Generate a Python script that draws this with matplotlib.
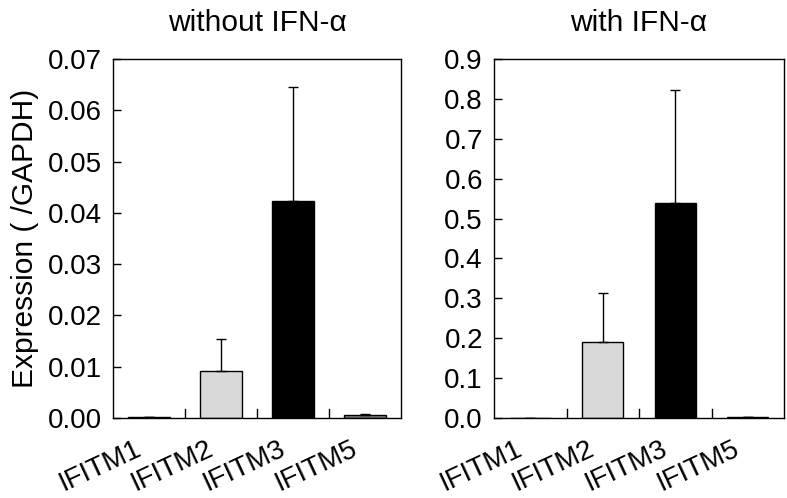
import numpy as np
import matplotlib.pyplot as plt
import matplotlib.transforms as mtransforms

plt.rcParams['font.family'] = ['Liberation Sans', 'DejaVu Sans']

genes = ['IFITM1', 'IFITM2', 'IFITM3', 'IFITM5']
colors = ['#ffffff', '#d9d9d9', '#000000', '#808080']

without_mean = [0.0001, 0.0092, 0.0423, 0.0005]
without_err = [0.0, 0.0062, 0.0222, 0.0002]
with_mean = [0.001, 0.190, 0.540, 0.002]
with_err = [0.0, 0.123, 0.282, 0.0005]

titles = ['without IFN-\u03b1', 'with IFN-\u03b1']
ylims = [0.07, 0.9]
yticks = [np.arange(0, 0.0701, 0.01), np.arange(0, 0.901, 0.1)]
yfmt = ['%.2f', '%.1f']

fig = plt.figure(figsize=(7.87, 4.98), dpi=100)
W, H = 787, 498
axes = [fig.add_axes([113 / W, 1 - 418 / H, 288 / W, 359 / H]),
        fig.add_axes([494 / W, 1 - 418 / H, 290 / W, 359 / H])]

shift = mtransforms.ScaledTranslation(-0.15, 0, fig.dpi_scale_trans)

for ax, means, errs, title, ylim, yt, fmt in zip(
        axes, [without_mean, with_mean], [without_err, with_err],
        titles, ylims, yticks, yfmt):
    x = np.arange(len(genes))
    ax.bar(x, means, width=0.57, color=colors, edgecolor='black', linewidth=1.0)
    ax.errorbar(x, means, yerr=[np.zeros(len(errs)), errs], fmt='none',
                ecolor='black', elinewidth=1.0, capsize=3.5, capthick=1.0)
    ax.set_xlim(-0.5, 3.5)
    ax.set_ylim(0, ylim)
    ax.set_yticks(yt)
    ax.set_yticklabels([fmt % v for v in yt], fontsize=20)
    ax.tick_params(axis='y', direction='in', length=6, width=1, pad=8)
    ax.set_xticks(x)
    ax.set_xticklabels(genes, rotation=25, ha='right', rotation_mode='anchor', fontsize=20)
    ax.tick_params(axis='x', length=0, pad=13)
    for lab in ax.get_xticklabels():
        lab.set_transform(lab.get_transform() + shift)
    for b in [0.5, 1.5, 2.5]:
        ax.plot([b, b], [0, ylim * 0.025], color='black', lw=1)
    for s in ax.spines.values():
        s.set_linewidth(1.0)
    ax.set_title(title, fontsize=21.5, pad=20)

axes[0].set_ylabel('Expression ( /GAPDH)', fontsize=21.5, labelpad=6)

fig.savefig('out.png', dpi=100)
